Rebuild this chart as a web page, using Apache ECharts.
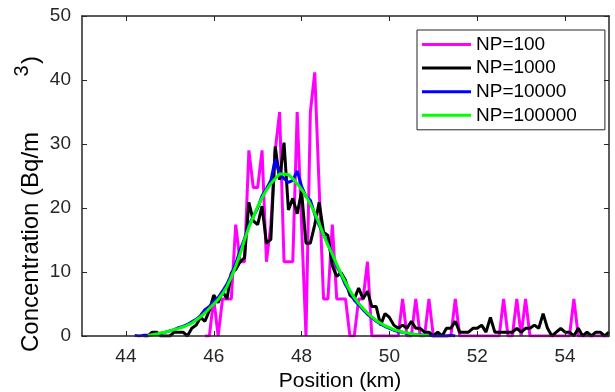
<!DOCTYPE html>
<html>
<head>
<meta charset="utf-8">
<script src="https://cdn.jsdelivr.net/npm/echarts@6/dist/echarts.min.js"></script>
<style>
  html, body { margin: 0; padding: 0; background: #fff; }
  #chart { width: 615px; height: 392px; }
</style>
</head>
<body>
<div id="chart"></div>
<script>
// sample positions along the track (km), 0.1 km apart
const positions = [
  44.2, 44.3, 44.4, 44.5, 44.6, 44.7, 44.8, 44.9, 45.0, 45.1,
  45.2, 45.3, 45.4, 45.5, 45.6, 45.7, 45.8, 45.9, 46.0, 46.1,
  46.2, 46.3, 46.4, 46.5, 46.6, 46.7, 46.8, 46.9, 47.0, 47.1,
  47.2, 47.3, 47.4, 47.5, 47.6, 47.7, 47.8, 47.9, 48.0, 48.1,
  48.2, 48.3, 48.4, 48.5, 48.6, 48.7, 48.8, 48.9, 49.0, 49.1,
  49.2, 49.3, 49.4, 49.5, 49.6, 49.7, 49.8, 49.9, 50.0, 50.1,
  50.2, 50.3, 50.4, 50.5, 50.6, 50.7, 50.8, 50.9, 51.0, 51.1,
  51.2, 51.3, 51.4, 51.5, 51.6, 51.7, 51.8, 51.9, 52.0, 52.1,
  52.2, 52.3, 52.4, 52.5, 52.6, 52.7, 52.8, 52.9, 53.0, 53.1,
  53.2, 53.3, 53.4, 53.5, 53.6, 53.7, 53.8, 53.9, 54.0, 54.1,
  54.2, 54.3, 54.4, 54.5, 54.6, 54.7, 54.8, 54.9, 55.0
];

const np100 = [
  null, null, null, null, null, null, null, null, null, null,
  null, null, null, null, null, null, 0, 0, 5.8, 0,
  5.8, 5.8, 5.8, 17.4, 11.6, 11.6, 29, 23.2, 23.2, 29,
  11.6, 17.4, 29, 35, 11.6, 11.6, 11.6, 35, 17.4, 0,
  35, 41.2, 23.2, 5.8, 5.8, 17.4, 5.8, 5.8, 5.8, 0,
  0, 5.8, 5.8, 11.6, 0, 0, 0, 0, 0, 0,
  0, 5.8, 0, 0, 5.8, 0, 0, 5.8, 0, 0,
  0, 0, 0, 5.8, 0, 0, 0, 0, 0, 0,
  0, 0, 0, 0, 5.8, 0, 0, 5.8, 0, 5.8,
  0, 0, 0, 0, 0, 0, 0, 0, 0, 0,
  5.8, 0, 0, 0, 0, 0, 0, 0, 0
];

const np1000 = [
  null, null, 0, 0, 0.6, 0.6, 0, 0, 0, 0.6,
  0.6, 0.6, 0, 1.2, 1.7, 2.9, 2.3, 4.0, 6.4, 5.2,
  7.0, 5.8, 9.9, 10.4, 11.6, 12.2, 20.9, 18.0, 17.4, 20.3,
  14.5, 15.1, 29.6, 24.4, 30.2, 19.7, 21.5, 19.1, 22.6, 14.5,
  14.5, 17.4, 20.9, 16.2, 15.7, 11.0, 9.3, 9.9, 8.7, 6.4,
  5.8, 7.5, 5.8, 7.0, 4.6, 4.6, 1.7, 3.5, 2.9, 1.7,
  1.2, 1.7, 1.2, 2.3, 1.2, 1.2, 0.6, 0.6, 0, 0.6,
  0, 1.2, 1.2, 2.3, 0.6, 0.6, 0.6, 1.2, 1.2, 1.7,
  0.6, 2.9, 0.6, 0.6, 0.6, 0.6, 0.6, 1.2, 0.6, 1.2,
  1.2, 1.7, 1.2, 3.5, 1.2, 0, 0.6, 1.2, 0.6, 0.6,
  0, 1.2, 0, 0.6, 0, 0.6, 0.6, 0, 0.6
];

const np10000 = [
  0.1, 0, 0.1, 0.1, 0.2, 0.3, 0.4, 0.6, 0.8, 1.0,
  1.3, 1.5, 1.8, 2.2, 2.6, 3.2, 4.1, 4.6, 5.4, 6.0,
  7.0, 8.1, 9.6, 11.3, 13.4, 15.2, 17.3, 18.7, 20.0, 21.9,
  23.0, 24.3, 27.6, 25.3, 24.6, 24.0, 24.3, 25.8, 23.4, 21.8,
  21.2, 19.0, 17.3, 15.9, 14.4, 12.6, 11.0, 9.6, 8.0, 6.9,
  5.6, 4.9, 4.1, 3.4, 2.9, 2.3, 1.9, 1.5, 1.2, 0.9,
  0.7, 0.6, 0.4, 0.3, 0.2, 0.2, 0.1, 0.1, 0, 0,
  0, 0, 0.1, 0, null, null, null, null, null, null,
  null, null, null, null, null, null, null, null, null, null,
  null, null, null, null, null, null, null, null, null, null,
  null, null, null, null, null, null, null, null, null
];

const np100000 = [
  null, null, null, 0.1, 0.2, 0.3, 0.5, 0.6, 0.8, 1.0,
  1.2, 1.4, 1.7, 2.0, 2.5, 3.0, 3.6, 4.3, 5.0, 5.7,
  6.6, 7.7, 9.2, 10.9, 12.8, 15.0, 17.0, 18.6, 20.2, 21.6,
  22.8, 23.8, 24.6, 25.3, 25.3, 25.2, 24.6, 23.8, 22.9, 21.9,
  20.6, 19.2, 17.6, 15.8, 14.2, 12.8, 11.2, 9.7, 8.4, 7.1,
  6.0, 5.1, 4.3, 3.6, 3.0, 2.4, 2.0, 1.6, 1.3, 1.0,
  0.8, 0.6, 0.5, 0.35, 0.25, 0.15, 0.1, 0.05, null, null,
  null, null, null, null, null, null, null, null, null, null,
  null, null, null, null, null, null, null, null, null, null,
  null, null, null, null, null, null, null, null, null, null,
  null, null, null, null, null, null, null, null, null
];

const seriesNames = ['NP=100', 'NP=1000', 'NP=10000', 'NP=100000'];
const seriesValues = [np100, np1000, np10000, np100000];
const seriesColors = ['#ff00ff', '#000000', '#0000ff', '#00ff00'];

const xTicks = [44, 46, 48, 50, 52, 54];
const yTicks = [0, 10, 20, 30, 40, 50];

const FONT = '"Liberation Sans", Arial, Helvetica, sans-serif';
const INK = '#262626';

const chart = echarts.init(document.getElementById('chart'), null, {renderer: 'canvas'});

const tickStyle = {show: true, inside: true, length: 5, lineStyle: {color: INK, width: 1}};
const lineAxis = {lineStyle: {color: INK, width: 1.5}};

chart.setOption({
  animation: false,
  backgroundColor: '#fff',
  grid: {left: 82, right: 6, top: 16, bottom: 56, containLabel: false},
  xAxis: [
    {
      type: 'value', min: 43, max: 55, z: 10,
      axisLine: {show: true, onZero: false, ...lineAxis},
      axisTick: {...tickStyle, customValues: xTicks},
      axisLabel: {customValues: xTicks, margin: 11, fontSize: 19, fontFamily: FONT, color: INK},
      splitLine: {show: false}
    },
    {
      type: 'value', position: 'top', min: 43, max: 55, z: 10,
      axisLine: {show: true, onZero: false, ...lineAxis},
      axisTick: {...tickStyle, customValues: xTicks},
      axisLabel: {show: false},
      splitLine: {show: false}
    }
  ],
  yAxis: [
    {
      type: 'value', min: 0, max: 50, interval: 10, z: 10,
      axisLine: {show: true, onZero: false, ...lineAxis},
      axisTick: {...tickStyle, customValues: yTicks},
      axisLabel: {customValues: yTicks, margin: 11, fontSize: 19, fontFamily: FONT, color: INK},
      splitLine: {show: false}
    },
    {
      type: 'value', position: 'right', min: 0, max: 50, interval: 10, z: 10,
      axisLine: {show: true, onZero: false, ...lineAxis},
      axisTick: {...tickStyle, customValues: yTicks},
      axisLabel: {show: false},
      splitLine: {show: false}
    }
  ],
  legend: {
    orient: 'vertical',
    left: 417,
    top: 30,
    padding: [5, 28, 5, 5],
    itemGap: 4.6,
    itemWidth: 49,
    itemHeight: 3,
    icon: 'rect',
    borderColor: INK,
    borderWidth: 1,
    backgroundColor: '#fff',
    textStyle: {fontSize: 19, lineHeight: 19, fontFamily: FONT, color: '#000'},
    data: seriesNames
  },
  series: seriesNames.map((name, k) => ({
    name,
    type: 'line',
    xAxisIndex: 0,
    yAxisIndex: 0,
    showSymbol: false,
    symbol: 'none',
    connectNulls: false,
    color: seriesColors[k],
    lineStyle: {color: seriesColors[k], width: 3},
    data: positions.map((x, i) => [x, seriesValues[k][i]])
  })),
  graphic: [
    {
      type: 'text', x: 340, y: 381,
      style: {text: 'Position (km)', font: '21px ' + FONT, fill: '#000', align: 'center', verticalAlign: 'middle'}
    },
    {
      type: 'text', x: 31, y: 352, rotation: Math.PI / 2,
      style: {text: 'Concentration (Bq/m', font: '24px ' + FONT, fill: '#000', align: 'left', verticalAlign: 'middle'}
    },
    {
      type: 'text', x: 22, y: 71, rotation: Math.PI / 2,
      style: {text: '3', font: '20px ' + FONT, fill: '#000', align: 'center', verticalAlign: 'middle'}
    },
    {
      type: 'text', x: 31, y: 60, rotation: Math.PI / 2,
      style: {text: ')', font: '24px ' + FONT, fill: '#000', align: 'center', verticalAlign: 'middle'}
    }
  ]
});
</script>
</body>
</html>
